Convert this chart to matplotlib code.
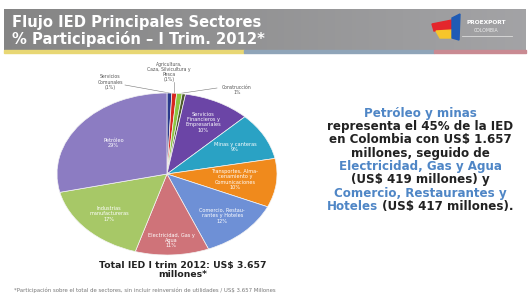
import numpy as np
import matplotlib
matplotlib.use("Agg")
import matplotlib.pyplot as plt
from matplotlib.patches import Rectangle, Polygon

# ---------------- data ----------------
sectors = [
    "Servicios Comunales",
    "Agricultura, Caza, Silvicultura y Pesca",
    "Construcción",
    "Otros",
    "Servicios Financieros y Empresariales",
    "Minas y Canteras",
    "Transportes, Almacenamiento y Comunicaciones",
    "Comercio, Restaurantes y Hoteles",
    "Electricidad, Gas y Agua",
    "Industrias Manufactureras",
    "Petróleo",
]
shares = [0.7, 0.7, 0.8, 0.5, 9.8, 9.4, 9.7, 12.2, 10.8, 16.7, 28.6]
inner_labels = [
    None, None, None, None,
    "Servicios\nFinancieros y\nEmpresariales\n10%",
    "Minas y canteras\n9%",
    "Transportes, Alma-\ncenamiento y\nComunicaciones\n10%",
    "Comercio, Restau-\nrantes y Hoteles\n12%",
    "Electricidad, Gas y\nAgua\n11%",
    "Industrias\nmanufactureras\n17%",
    "Petróleo\n29%",
]
outer_labels = ["Servicios\nComunales\n(1%)", "Agricultura,\nCaza, Silvicultura y\nPesca\n(1%)",
                "Construcción\n1%", None]
colors = ["#2B3A8C", "#D8261F", "#8CC63F", "#4E5C2A", "#6B45A6", "#2AA2C4",
          "#F08A1C", "#6E90D6", "#CF7379", "#A7C867", "#8C7CC2"]
label_r = [0, 0, 0, 0, 0.72, 0.70, 0.62, 0.72, 0.82, 0.72, 0.62]

text_lines = [
    ("Petróleo y minas", "#4F86C6"),
    ("representa el 45% de la IED", "#222222"),
    ("en Colombia con US$ 1.657", "#222222"),
    ("millones, seguido de", "#222222"),
    ("Electricidad, Gas y Agua", "#4F86C6"),
    ("(US$ 419 millones) y", "#222222"),
    ("Comercio, Restaurantes y", "#4F86C6"),
]
last_line = [("Hoteles", "#4F86C6"), (" (US$ 417 millones).", "#222222")]
title_lines = ["Flujo IED Principales Sectores", "% Participación – I Trim. 2012*"]
total_text = "Total IED I trim 2012: US$ 3.657\nmillones*"
footnote = "*Participación sobre el total de sectores, sin incluir reinversión de utilidades / US$ 3.657 Millones"

W, H = 530, 294
fig = plt.figure(figsize=(W / 100, H / 100), dpi=100)
fig.patch.set_facecolor("white")

ov = fig.add_axes([0, 0, 1, 1])
ov.set_xlim(0, W)
ov.set_ylim(H, 0)
ov.axis("off")

# header band with gradient
grad = np.linspace(0, 1, 256)
band = np.zeros((1, 256, 3))
c0 = np.array([0.52, 0.52, 0.52])
c1 = np.array([0.64, 0.64, 0.65])
for i, g in enumerate(grad):
    band[0, i] = c0 * (1 - g) + c1 * g
ov.imshow(band, extent=(4, 526, 50, 9), aspect="auto", zorder=1)
ov.add_patch(Rectangle((4, 50), 240, 3, color="#E8D774", zorder=2))
ov.add_patch(Rectangle((244, 50), 190, 3, color="#8FA4B8", zorder=2))
ov.add_patch(Rectangle((434, 50), 92, 3, color="#C98A92", zorder=2))

for i, s in enumerate(title_lines):
    ov.text(12, 23 + i * 16, s, color="white", fontsize=10.6, fontweight="bold",
            va="center", ha="left", zorder=3)

# logo
ov.add_patch(Polygon([[432, 24], [452, 20], [452, 30], [434, 31]], color="#E4262C", zorder=3))
ov.add_patch(Polygon([[436, 31], [452, 30], [452, 38], [440, 38]], color="#F7C52B", zorder=3))
ov.add_patch(Polygon([[452, 18], [460, 14], [459, 40], [452, 38]], color="#1F5BB5", zorder=3))
ov.text(486, 23, "PROEXPORT", color="white", fontsize=4.2, fontweight="bold",
        ha="center", va="center", zorder=3)
ov.text(486, 31, "COLOMBIA", color="#EEEEEE", fontsize=3.3, ha="center", va="center", zorder=3)
ov.plot([462, 512], [36, 36], color="#DDDDDD", lw=0.6, zorder=3)

# right text block
fs = 8.6
y0, dy = 113, 13.4
for i, (s, c) in enumerate(text_lines):
    ov.text(420, y0 + i * dy, s, color=c, fontsize=fs, fontweight="bold",
            ha="center", va="center", zorder=3)
yl = y0 + 7 * dy
renderer = fig.canvas.get_renderer()
parts = []
for s, c in last_line:
    parts.append(ov.text(0, yl, s, color=c, fontsize=fs, fontweight="bold",
                         ha="left", va="center", zorder=3))
widths = [p.get_window_extent(renderer).width for p in parts]
x = 420 - sum(widths) / 2
for p, wd in zip(parts, widths):
    p.set_x(x)
    x += wd

# bottom texts
ov.text(183, 270, total_text, color="#222222", fontsize=6.7, fontweight="bold",
        ha="center", va="center", linespacing=1.05, zorder=3)
ov.text(14, 290, footnote, color="#777777", fontsize=3.9, ha="left", va="center", zorder=3)

# pie axes
cx0, cx1, cy0, cy1 = 57, 277, 93, 255
pax = fig.add_axes([cx0 / W, 1 - cy1 / H, (cx1 - cx0) / W, (cy1 - cy0) / H])
wedges, _ = pax.pie(shares, colors=colors, startangle=90, counterclock=False,
                    wedgeprops=dict(edgecolor="#F4F4F4", linewidth=0.5))
pax.set_aspect("auto")
pax.set_xlim(-1, 1)
pax.set_ylim(-1, 1)
pax.axis("off")

for w, lab, r in zip(wedges, inner_labels, label_r):
    if lab is None:
        continue
    th = np.deg2rad((w.theta1 + w.theta2) / 2)
    pax.text(r * np.cos(th), r * np.sin(th), lab, color="white", fontsize=3.6,
             ha="center", va="center", linespacing=1.05)

ext_pos = [(110, 82), (169, 72), (237, 90)]
for w, lab, pos in zip(wedges[:3], outer_labels[:3], ext_pos):
    th = np.deg2rad((w.theta1 + w.theta2) / 2)
    px = (cx0 + cx1) / 2 + np.cos(th) * (cx1 - cx0) / 2
    py = (cy0 + cy1) / 2 - np.sin(th) * (cy1 - cy0) / 2
    ov.text(pos[0], pos[1], lab, color="#555555", fontsize=3.3, ha="center",
            va="center", linespacing=1.05, zorder=4)
    if pos[0] < 150:
        ov.plot([pos[0] + 15, px], [pos[1] + 3, py], color="#777777", lw=0.4, zorder=4)
    elif pos[0] > 200:
        ov.plot([pos[0] - 20, px], [pos[1] - 2, py], color="#777777", lw=0.4, zorder=4)
    else:
        ov.plot([px, px], [pos[1] + 10, py], color="#777777", lw=0.4, zorder=4)

fig.savefig("out.png", dpi=100, facecolor="white")
